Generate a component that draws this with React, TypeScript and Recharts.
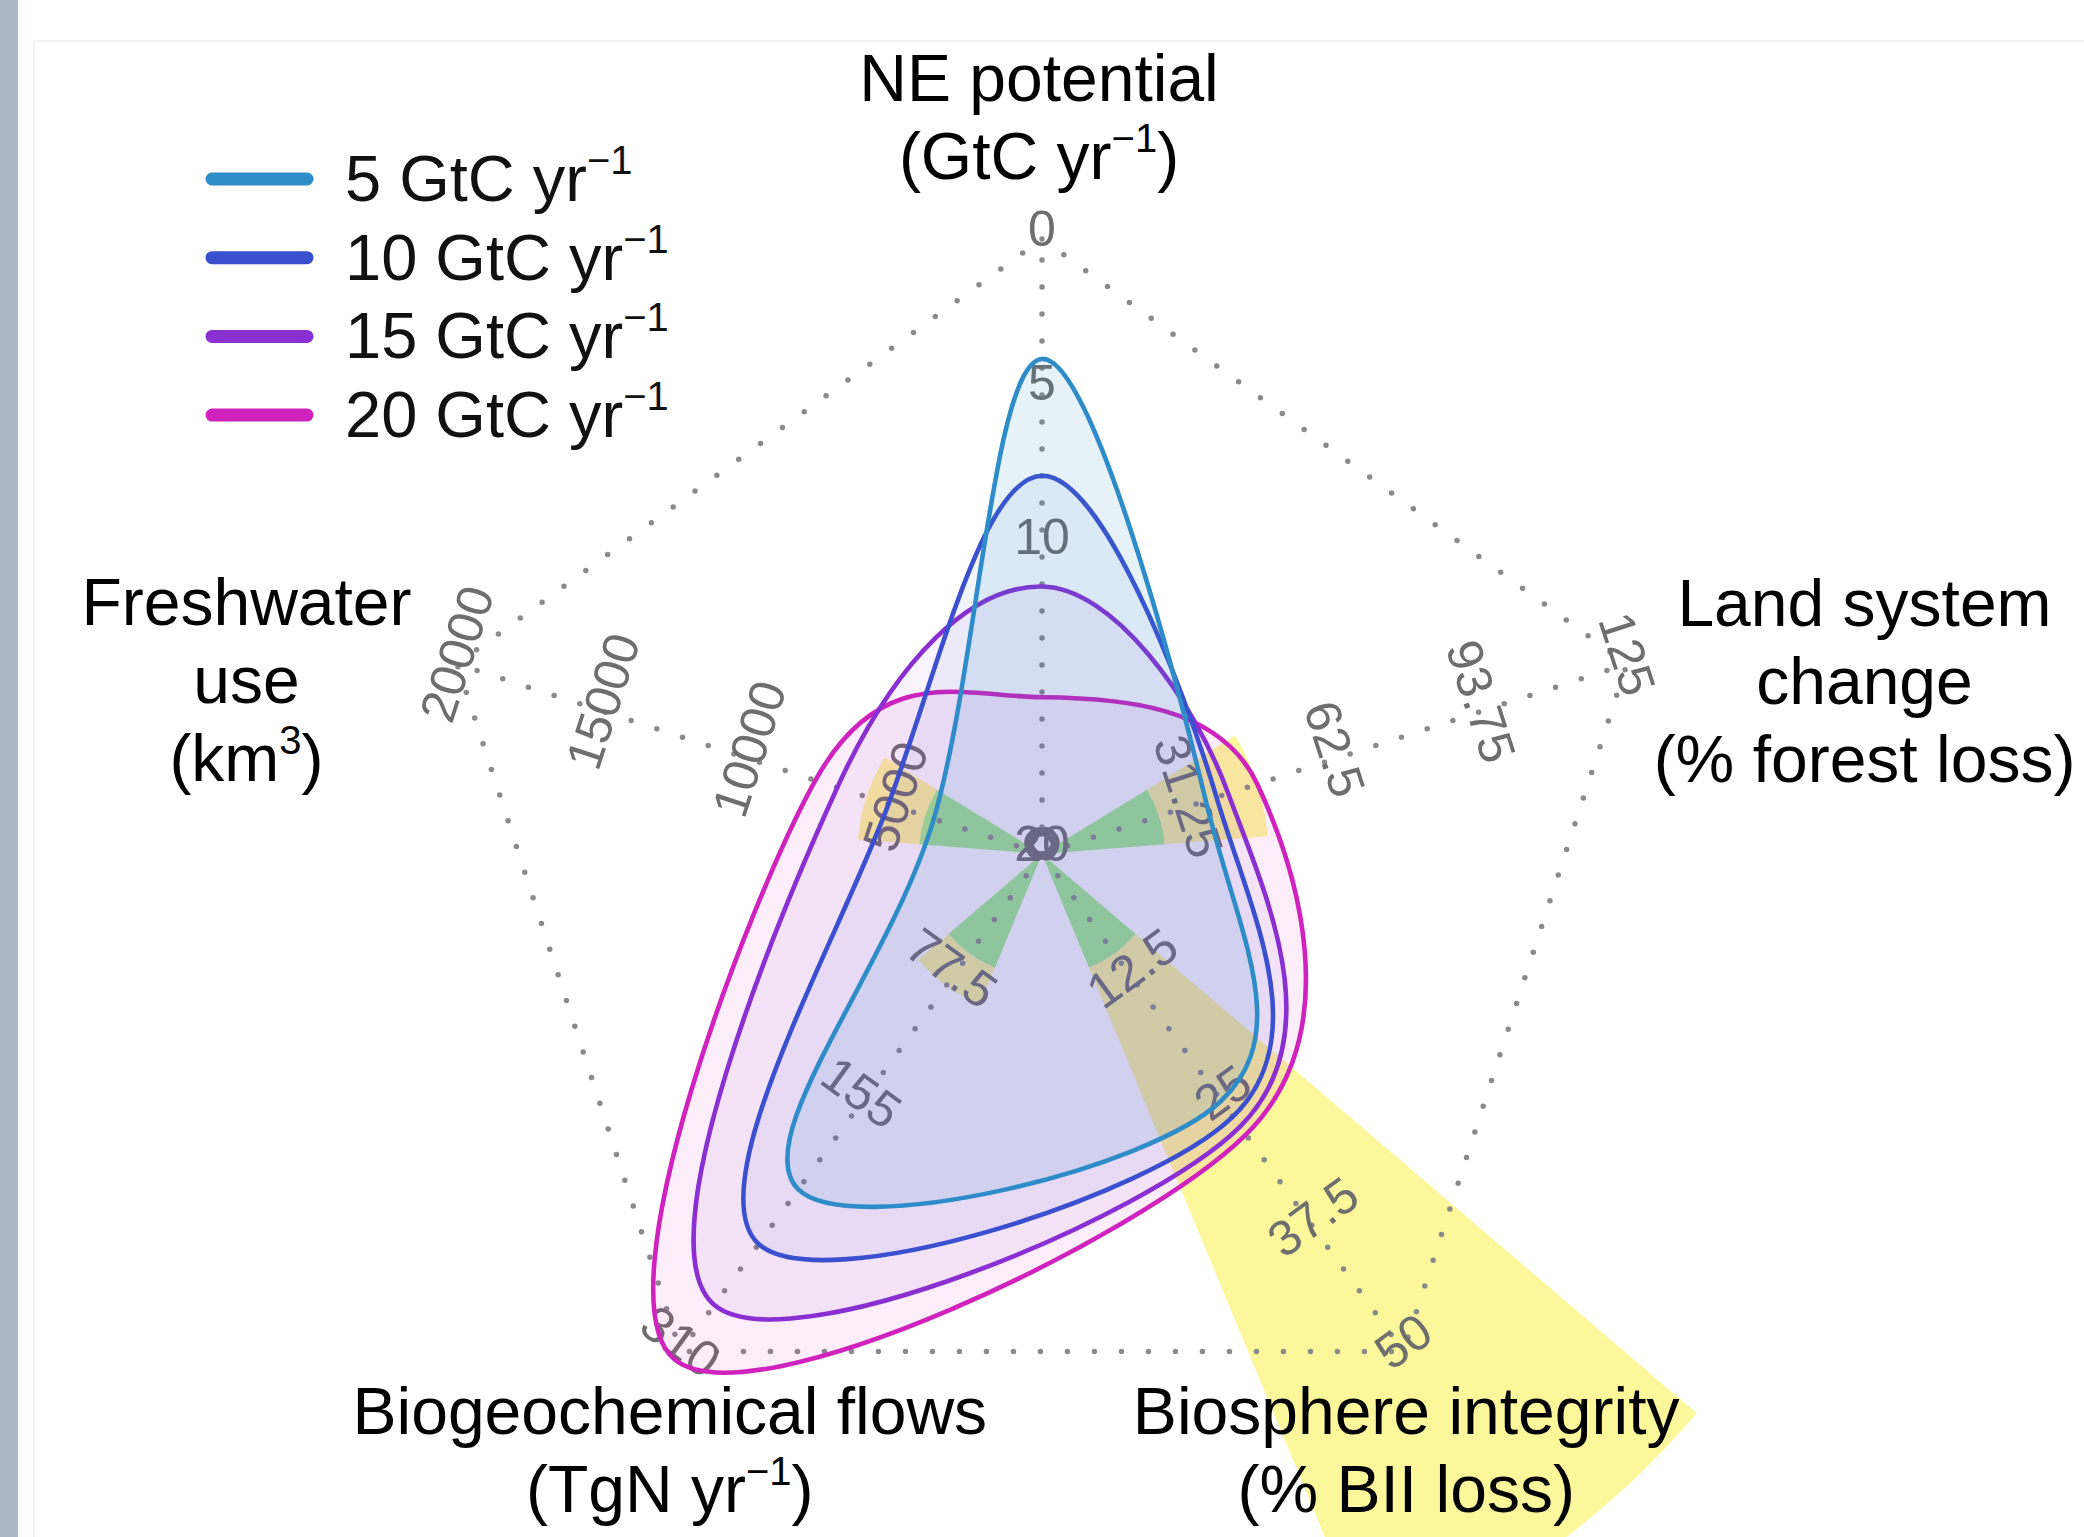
import React from 'react';
import { RadarChart, Radar, PolarGrid, PolarAngleAxis, PolarRadiusAxis, Sector } from 'recharts';

// ---------- data ----------
const AXES = ['NE potential', 'Land system change', 'Biosphere integrity', 'Biogeochemical flows', 'Freshwater use'];
const AXIS_MAX = [20, 125, 50, 310, 20000];
const AXIS_REVERSED = [true, false, false, false, false];

const TICKS_NE = [0, 5, 10, 20];
const TICKS_LAND = [0, 31.25, 62.5, 93.75, 125];
const TICKS_BIOSPHERE = [0, 12.5, 25, 37.5, 50];
const TICKS_BIOGEO = [0, 77.5, 155, 310];
const TICKS_FRESHWATER = [0, 5000, 10000, 15000, 20000];
const AXIS_TICKS = [TICKS_NE, TICKS_LAND, TICKS_BIOSPHERE, TICKS_BIOGEO, TICKS_FRESHWATER];

// planetary boundary (green up to boundary, yellow = zone of uncertainty)
const BOUNDARY = [null, 25, 10, 62, 4000];
const BOUNDARY_HIGH = [null, 46, 70, 82, 6000];

const SERIES_LABELS = ['5 GtC yr', '10 GtC yr', '15 GtC yr', '20 GtC yr'];
const SERIES_COLORS = ['#2e8cc9', '#3a50cf', '#8a2fd1', '#d023be'];
const SERIES_FILL_OPACITY = [0.12, 0.06, 0.06, 0.08];
// values per axis: NE potential, land, biosphere, biogeochemical, freshwater
const SERIES_5 = [3.9, 35.0, 24.8, 209, 3700];
const SERIES_10 = [7.7, 37.3, 26.4, 243, 5250];
const SERIES_15 = [11.3, 39.8, 27.4, 281, 7000];
const SERIES_20 = [14.9, 46.0, 28.2, 315, 7750];
const SERIES = [SERIES_5, SERIES_10, SERIES_15, SERIES_20];

const TITLE_LINES = [
  [['NE potential'], ['(GtC yr', '\u22121', ')']],
  [['Land system'], ['change'], ['(% forest loss)']],
  [['Biosphere integrity'], ['(% BII loss)']],
  [['Biogeochemical flows'], ['(TgN yr', '\u22121', ')']],
  [['Freshwater'], ['use'], ['(km', '3', ')']],
];

// ---------- layout ----------
const W = 2084;
const H = 1537;
const CX = 1042;
const CY = 854;
const OUTER_R = 615;
const FONT = '"Liberation Sans", Arial, Helvetica, sans-serif';
const TITLE_FS = 66;
const TITLE_LH = 78;
const TITLE_POS = [
  { dx: -3, dy: -130 },
  { dx: 230, dy: -35 },
  { dx: -2, dy: 76 },
  { dx: -6, dy: 76 },
  { dx: -203, dy: -36 },
];
const WEDGE_HALF = 13.5;
const SPLINE_K = 0.18;

const norm = (v: number, i: number) =>
  AXIS_REVERSED[i] ? (AXIS_MAX[i] - v) / AXIS_MAX[i] : v / AXIS_MAX[i];

const data = AXES.map((axis, i) => {
  const row: any = { axis, idx: i, frame: 1 };
  SERIES.forEach((s, k) => {
    row['s' + k] = norm(s[i], i);
  });
  row.pb = BOUNDARY[i] == null ? 0 : norm(BOUNDARY[i] as number, i);
  row.pbHigh = BOUNDARY_HIGH[i] == null ? 0 : norm(BOUNDARY_HIGH[i] as number, i);
  return row;
});

// closed cardinal spline through the radar points
function closedSpline(pts: any[]) {
  const n = pts.length;
  if (!n) return '';
  let d = `M${pts[0].x},${pts[0].y}`;
  for (let i = 0; i < n; i++) {
    const p0 = pts[(i - 1 + n) % n];
    const p1 = pts[i];
    const p2 = pts[(i + 1) % n];
    const p3 = pts[(i + 2) % n];
    const c1x = p1.x + (p2.x - p0.x) * SPLINE_K;
    const c1y = p1.y + (p2.y - p0.y) * SPLINE_K;
    const c2x = p2.x - (p3.x - p1.x) * SPLINE_K;
    const c2y = p2.y - (p3.y - p1.y) * SPLINE_K;
    d += ` C${c1x},${c1y} ${c2x},${c2y} ${p2.x},${p2.y}`;
  }
  return d + ' Z';
}

const makeSeriesShape = (k: number) => (props: any) => (
  <path
    d={closedSpline(props.points || [])}
    fill={SERIES_COLORS[k]}
    fillOpacity={SERIES_FILL_OPACITY[k]}
    stroke={SERIES_COLORS[k]}
    strokeWidth={4.6}
    strokeLinejoin="round"
  />
);

const GreenShape = (props: any) => (
  <g>
    {(props.points || []).map((p: any, i: number) =>
      p.payload && p.payload.pb > 0 ? (
        <Sector
          key={i}
          cx={p.cx}
          cy={p.cy}
          innerRadius={0}
          outerRadius={p.radius}
          startAngle={p.angle - WEDGE_HALF}
          endAngle={p.angle + WEDGE_HALF}
          fill="#a3f08e"
          stroke="none"
        />
      ) : null
    )}
  </g>
);

const YellowShape = (props: any) => (
  <g>
    {(props.points || []).map((p: any, i: number) =>
      p.payload && p.payload.pbHigh > 0 ? (
        <Sector
          key={i}
          cx={p.cx}
          cy={p.cy}
          innerRadius={(p.radius * p.payload.pb) / p.payload.pbHigh}
          outerRadius={p.radius}
          startAngle={p.angle - WEDGE_HALF}
          endAngle={p.angle + WEDGE_HALF}
          fill="#fdf79c"
          stroke="none"
        />
      ) : null
    )}
  </g>
);

const uprightRotation = (a: number) => {
  let r = ((a % 360) + 360) % 360;
  if (r > 90 && r <= 270) r -= 180;
  else if (r > 270) r -= 360;
  return r;
};

const TickLabelsShape = (props: any) => (
  <g>
    {(props.points || []).map((p: any, i: number) => {
      const idx = p.payload ? p.payload.idx : i;
      const rot = uprightRotation(90 - p.angle);
      const rad = (-p.angle * Math.PI) / 180;
      return AXIS_TICKS[idx].map((t: number, k: number) => {
        const r = (p.radius / (p.value || 1)) * norm(t, idx);
        const x = p.cx + r * Math.cos(rad);
        const y = p.cy + r * Math.sin(rad) - 10;
        return (
          <text
            key={`${i}-${k}`}
            x={x}
            y={y}
            transform={`rotate(${rot},${x},${y})`}
            textAnchor="middle"
            dominantBaseline="central"
            fontSize={50}
            fontFamily={FONT}
            fill="#6e6e6e"
          >
            {String(t)}
          </text>
        );
      });
    })}
  </g>
);

const TitleTick = (props: any) => {
  const { x, y, payload } = props;
  const idx = payload && payload.index != null ? payload.index : props.index;
  const lines = TITLE_LINES[idx] || [];
  const pos = TITLE_POS[idx] || { dx: 0, dy: 0 };
  const bx = x + pos.dx;
  const by = y + pos.dy;
  return (
    <g>
      {lines.map((ln: string[], li: number) => (
        <text
          key={li}
          x={bx}
          y={by + li * TITLE_LH}
          textAnchor="middle"
          fontSize={TITLE_FS}
          fontFamily={FONT}
          fill="#000"
        >
          <tspan>{ln[0]}</tspan>
          {ln[1] ? (
            <tspan dy={-27} fontSize={40}>
              {ln[1]}
            </tspan>
          ) : null}
          {ln[1] ? <tspan dy={27}>{ln[2]}</tspan> : null}
        </text>
      ))}
    </g>
  );
};

const LEGEND_TOP = 179;
const LEGEND_STEP = 78.7;

export default function App() {
  const order = [3, 2, 1, 0];
  return (
    <div
      style={{
        position: 'absolute',
        left: 0,
        top: 0,
        width: W,
        height: H,
        overflow: 'hidden',
        background: '#ffffff',
        fontFamily: FONT,
      }}
    >
      <div style={{ position: 'absolute', left: 0, top: 0, width: 18, height: H, background: '#aeb7c7' }} />
      <div
        style={{
          position: 'absolute',
          left: 33,
          top: 40,
          width: W,
          height: H,
          borderTop: '2px solid #f2f2f2',
          borderLeft: '2px solid #f2f2f2',
        }}
      />
      <div style={{ position: 'absolute', left: 0, top: 0 }}>
        <RadarChart
          width={W}
          height={H}
          data={data}
          cx={CX}
          cy={CY}
          outerRadius={OUTER_R}
          startAngle={90}
          endAngle={-270}
          margin={{ top: 0, right: 0, bottom: 0, left: 0 }}
        >
          <PolarRadiusAxis domain={[0, 1]} allowDataOverflow tickCount={5} tick={false} axisLine={false} />
          <PolarAngleAxis dataKey="axis" tick={TitleTick} tickLine={false} axisLine={false} />
          <Radar dataKey="pbHigh" shape={YellowShape} isAnimationActive={false} legendType="none" zIndex={-300} />
          <Radar dataKey="pb" shape={GreenShape} isAnimationActive={false} legendType="none" zIndex={-300} />
          <PolarGrid
            gridType="polygon"
            stroke="#8a8a8a"
            strokeWidth={5.5}
            strokeDasharray="0 27"
            strokeLinecap="round"
          />
          <Radar dataKey="frame" shape={TickLabelsShape} isAnimationActive={false} legendType="none" />
          {order.map((k) => (
            <Radar
              key={k}
              name={SERIES_LABELS[k]}
              dataKey={'s' + k}
              shape={makeSeriesShape(k)}
              isAnimationActive={false}
            />
          ))}
        </RadarChart>
      </div>
      <svg width={760} height={480} style={{ position: 'absolute', left: 0, top: 0 }}>
        {SERIES_LABELS.map((label, i) => {
          const y = LEGEND_TOP + i * LEGEND_STEP;
          return (
            <g key={label}>
              <line x1={212} x2={307} y1={y} y2={y} stroke={SERIES_COLORS[i]} strokeWidth={13} strokeLinecap="round" />
              <text x={345} y={y + 22} fontSize={65} fontFamily={FONT} fill="#111">
                <tspan>{label}</tspan>
                <tspan dy={-27} fontSize={40}>
                  {'\u22121'}
                </tspan>
              </text>
            </g>
          );
        })}
      </svg>
    </div>
  );
}
